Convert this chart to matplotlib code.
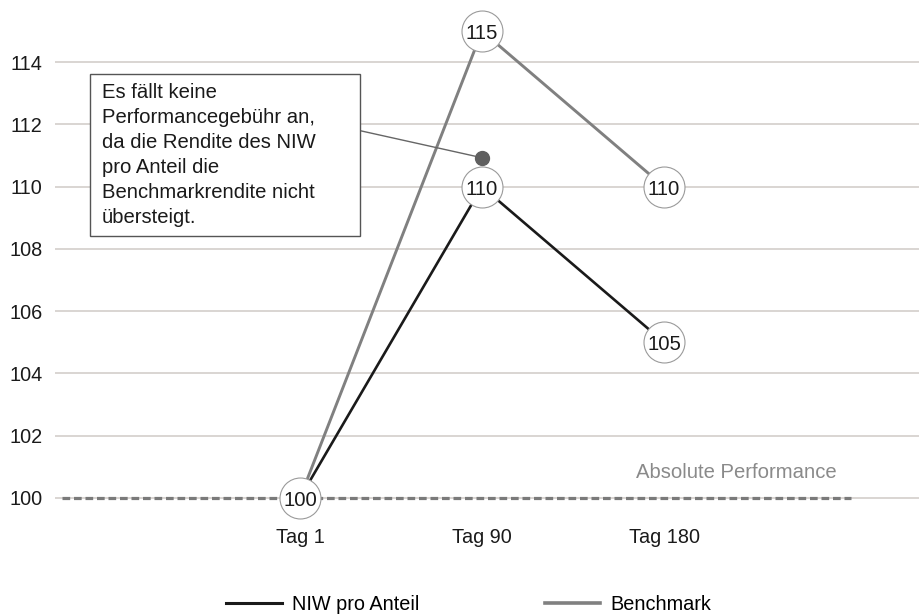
import matplotlib as mpl
import matplotlib.pyplot as plt
from matplotlib.patches import Rectangle
import numpy as np

mpl.rcParams["font.family"] = ["Liberation Sans", "DejaVu Sans"]

# data
days = ["Tag 1", "Tag 90", "Tag 180"]
niw = [100, 110, 105]
benchmark = [100, 115, 110]
baseline = 100
note_point = (1, 110.93)
yticks = [100, 102, 104, 106, 108, 110, 112, 114]

BLACK = "#1a1a1a"
GREY = "#808080"
DASH = "#7a7a7a"
GRID = "#d9d5d2"

fig = plt.figure(figsize=(9.19, 6.16), dpi=100)
ax = fig.add_axes([55 / 919, 1 - 504 / 616, 1 - 55 / 919, 504 / 616])
x = np.arange(len(days))
ax.set_xlim(-1.346, 3.401)
ax.set_ylim(99.8, 116)

ax.set_yticks(yticks)
ax.set_xticks(x)
ax.set_xticklabels(days)
ax.tick_params(length=0, labelsize=14.3, colors=BLACK)
ax.tick_params(axis="y", pad=9)
ax.tick_params(axis="x", pad=17)
ax.grid(axis="y", color=GRID, lw=1.4)
ax.grid(axis="x", visible=False)
for s in ax.spines.values():
    s.set_visible(False)

# baseline
ax.hlines(baseline, -1.308, 3.03, colors=DASH, lw=2.3, linestyles=(0, (2.4, 1.2)), zorder=2)
ax.text(2.4, baseline + 0.5, "Absolute Performance", color="#8a8a8a", fontsize=14.6,
        ha="center", va="bottom")

# series
ax.plot(x, benchmark, color=GREY, lw=2.1, zorder=3, clip_on=False)
ax.plot(x, niw, color=BLACK, lw=1.9, zorder=4, clip_on=False)

# circle markers with values
points = []
for ys in (niw, benchmark):
    for xi, yi in zip(x, ys):
        if (xi, yi) not in points:
            points.append((xi, yi))
for xi, yi in points:
    ax.plot([xi], [yi], marker="o", ms=29.5, mfc="white", mec="#9a9a9a", mew=0.8,
            zorder=5, clip_on=False)
    ax.text(xi, yi - 0.08, str(yi), ha="center", va="center", fontsize=14.6, color=BLACK,
            zorder=6)

# annotation
ax.add_patch(Rectangle((-1.154, 108.43), 1.484, 5.19, facecolor="white",
                       edgecolor="#555555", lw=1.0, zorder=6))
ax.text(-1.09, 113.32,
        "Es fällt keine\nPerformancegebühr an,\nda die Rendite des NIW\npro Anteil die\n"
        "Benchmarkrendite nicht\nübersteigt.",
        ha="left", va="top", fontsize=14.6, color=BLACK, linespacing=1.4, zorder=7)
ax.plot([0.33, note_point[0]], [111.8, note_point[1]], color="#666666", lw=1.0, zorder=4)
ax.plot([note_point[0]], [note_point[1]], "o", ms=10, color="#5f5f5f", zorder=5)

# legend
h1, = ax.plot([], [], color=BLACK, lw=2.2)
h2, = ax.plot([], [], color=GREY, lw=2.6)
fig.legend([h1, h2], ["NIW pro Anteil", "Benchmark"], loc="lower center",
           bbox_to_anchor=(0.51, -0.026), ncol=2, frameon=False, fontsize=14.3,
           handlelength=2.8, handletextpad=0.5, columnspacing=6.3)

fig.savefig("out.png", dpi=100, facecolor="white")
